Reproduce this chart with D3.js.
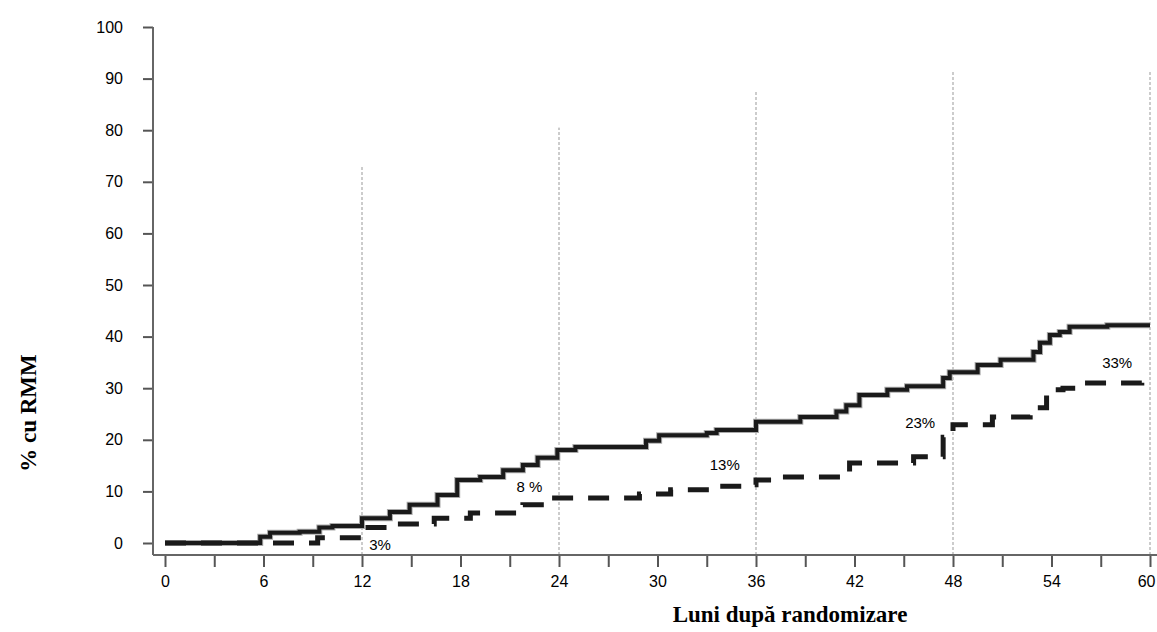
<!DOCTYPE html>
<html>
<head>
<meta charset="utf-8">
<script src="https://cdn.jsdelivr.net/npm/d3@7"></script>
<style>
  body { margin: 0; background: #fff; }
  .pct { font-family: "Liberation Sans", Arial, sans-serif; font-size: 15px; fill: #000; }
  .axisTitle { font-family: "Liberation Serif", "Times New Roman", serif; font-size: 23px; font-weight: bold; fill: #000; }
</style>
</head>
<body>
<script>

// months (x) and % (y) where each step of the curves starts
var solidSteps = [
  [0, 0], [5.8, 1.2], [6.4, 2], [8.2, 2.2], [9.4, 3], [10.2, 3.3], [12, 4.8], [13.7, 6],
  [14.9, 7.4], [16.6, 9.3], [17.8, 12.2], [19.2, 12.8], [20.6, 14.1], [21.8, 15.1],
  [22.7, 16.5], [23.9, 18], [25, 18.6], [29.3, 19.8], [30.1, 20.9], [33, 21.3],
  [33.6, 21.9], [36, 23.5], [38.7, 24.4], [40.9, 25.5], [41.5, 26.7], [42.3, 28.7],
  [44, 29.7], [45.2, 30.4], [47.4, 32], [47.8, 33.1], [49.5, 34.5], [50.9, 35.5],
  [52.9, 37], [53.3, 38.8], [53.9, 40.3], [54.5, 40.9], [55.1, 41.9], [57.4, 42.2], [60, 42.2]
];

var dashedSteps = [
  [0, 0], [9.3, 1], [12, 3], [13.7, 3.7], [16.4, 4.8], [18.6, 5.8], [21.8, 7.4],
  [23.5, 8.7], [28.9, 9.5], [30.8, 10.3], [33.8, 11], [35.2, 11.3], [36, 12.2],
  [37, 12.8], [41.7, 15.5], [45.6, 16.7], [47.4, 20.5], [48, 22.9], [50.4, 24.4],
  [52.7, 26.2], [53.7, 29.7], [54.7, 30], [55.5, 31], [59.5, 31.2]
];

// dotted reference lines: month and how high they reach (%)
var refMonths = [12, 24, 36, 48, 60];
var refTops = [73, 80.5, 87.5, 91.5, 91.5];

// percentage labels of the dashed curve: [month, %, text]
var pctLabels = [
  [13.1, -0.4, "3%"],
  [22.2, 10.9, "8 %"],
  [34.1, 15.1, "13%"],
  [46, 23.4, "23%"],
  [58, 34.9, "33%"]
];

var xTicks = d3.range(0, 61, 3);
var xTickLabels = [0, 6, 12, 18, 24, 30, 36, 42, 48, 54, 60];
var yTicks = d3.range(0, 101, 10);

var width = 1157, height = 632;

var svg = d3.select("body").append("svg")
            .attr("width", width)
            .attr("height", height);

var x = d3.scaleLinear().domain([0, 60]).range([165, 1150]);
var y = d3.scaleLinear().domain([0, 100]).range([543, 27]);
var axisY = 555;
var axisX = 153;

// dotted reference lines
svg.selectAll(".ref")
   .data(refMonths)
   .enter()
   .append("line")
   .attr("class", "ref")
   .attr("x1", function(d) { return x(d); })
   .attr("x2", function(d) { return x(d); })
   .attr("y1", axisY)
   .attr("y2", function(d, i) { return y(refTops[i]); })
   .attr("stroke", "#999")
   .attr("stroke-width", 1)
   .attr("stroke-dasharray", "3,2");

// x axis
var xAxis = d3.axisBottom(x)
              .tickValues(xTicks)
              .tickSize(12)
              .tickPadding(9)
              .tickFormat(function(d) { return xTickLabels.indexOf(d) >= 0 ? d : ""; });

var gx = svg.append("g")
            .attr("transform", "translate(0," + axisY + ")")
            .attr("font-family", "Liberation Sans, Arial, sans-serif")
            .attr("font-size", 16)
            .call(xAxis);
gx.select(".domain").remove();
gx.selectAll(".tick line").attr("stroke", "#555").attr("stroke-width", 2);
gx.selectAll(".tick text").attr("fill", "#000").attr("font-size", 16);
// last label sits at the right edge, keep it inside the picture
gx.selectAll(".tick text")
  .filter(function(d) { return d === 60; })
  .attr("text-anchor", "end")
  .attr("dx", "5");
gx.append("line")
  .attr("x1", axisX).attr("x2", width)
  .attr("stroke", "#666").attr("stroke-width", 2);

// y axis
var yAxis = d3.axisLeft(y)
              .tickValues(yTicks)
              .tickSize(10)
              .tickPadding(20);

var gy = svg.append("g")
            .attr("transform", "translate(" + axisX + ",0)")
            .attr("font-family", "Liberation Sans, Arial, sans-serif")
            .attr("font-size", 16)
            .call(yAxis);
gy.select(".domain").remove();
gy.selectAll(".tick line").attr("stroke", "#555").attr("stroke-width", 2);
gy.selectAll(".tick text").attr("fill", "#000").attr("font-size", 16);
gy.append("line")
  .attr("y1", y(100)).attr("y2", axisY)
  .attr("stroke", "#666").attr("stroke-width", 2);

// step curves
var stepLine = d3.line()
                 .x(function(d) { return x(d[0]); })
                 .y(function(d) { return y(d[1]); })
                 .curve(d3.curveStepAfter);

svg.append("path")
   .datum(solidSteps)
   .attr("d", stepLine)
   .attr("fill", "none")
   .attr("stroke", "#aaa")
   .attr("stroke-width", 6);

svg.append("path")
   .datum(solidSteps)
   .attr("d", stepLine)
   .attr("fill", "none")
   .attr("stroke", "#1a1a1a")
   .attr("stroke-width", 4);

svg.append("path")
   .datum(dashedSteps)
   .attr("d", stepLine)
   .attr("fill", "none")
   .attr("stroke", "#1a1a1a")
   .attr("stroke-width", 5)
   .attr("stroke-dasharray", "21,15");

// percentage labels
svg.selectAll(".pct")
   .data(pctLabels)
   .enter()
   .append("text")
   .attr("class", "pct")
   .attr("x", function(d) { return x(d[0]); })
   .attr("y", function(d) { return y(d[1]); })
   .attr("dy", "0.35em")
   .attr("text-anchor", "middle")
   .text(function(d) { return d[2]; });

// axis titles
svg.append("text")
   .attr("class", "axisTitle")
   .attr("x", 790)
   .attr("y", 622)
   .attr("text-anchor", "middle")
   .text("Luni după randomizare");

svg.append("text")
   .attr("class", "axisTitle")
   .attr("transform", "translate(36,413) rotate(-90)")
   .attr("text-anchor", "middle")
   .text("% cu RMM");

</script>
</body>
</html>
